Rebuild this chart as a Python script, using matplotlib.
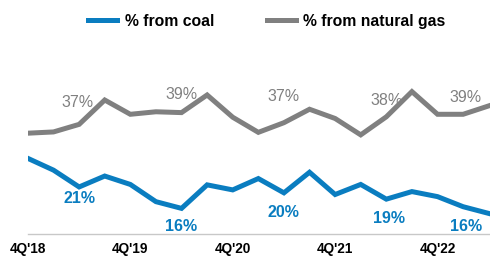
import matplotlib
matplotlib.use("Agg")
import matplotlib.pyplot as plt
import numpy as np

plt.rcParams['font.family'] = ['Liberation Sans', 'DejaVu Sans']

quarters = ["4Q'18", "1Q'19", "2Q'19", "3Q'19", "4Q'19", "1Q'20", "2Q'20", "3Q'20", "4Q'20",
            "1Q'21", "2Q'21", "3Q'21", "4Q'21", "1Q'22", "2Q'22", "3Q'22", "4Q'22", "1Q'23", "2Q'23"]
coal = [27.3, 24.5, 20.5, 23.1, 21.1, 17.0, 15.4, 21.0, 19.8, 22.5, 19.1, 24.0, 18.7,
        21.1, 17.6, 19.4, 18.2, 15.8, 14.2]
gas = [33.3, 33.6, 35.4, 41.2, 37.8, 38.4, 38.2, 42.4, 37.1, 33.5, 35.8, 39.0, 36.8,
       32.9, 37.2, 43.2, 37.8, 37.8, 39.8]
shown_ticks = ["4Q'18", "4Q'19", "4Q'20", "4Q'21", "4Q'22"]

gas_labels = ["37%", "39%", "37%", "38%", "39%"]
gas_label_x = [1.94, 6.0, 10.0, 14.0, 17.1]
gas_label_y = [40.5, 42.6, 42.0, 41.0, 41.8]
coal_labels = ["21%", "16%", "20%", "19%", "16%"]
coal_label_x = [2.0, 6.0, 10.0, 14.1, 17.1]
coal_label_y = [17.8, 11.0, 14.4, 13.0, 11.0]

blue = "#0A7DC0"
grey = "#808080"

fig = plt.figure(figsize=(4.9, 2.59), dpi=100)
ax = fig.add_axes([0.057, 0.0965, 0.943, 0.579])
x = np.arange(len(quarters))
ax.plot(x, coal, color=blue, lw=3.6, solid_joinstyle='miter', label="% from coal")
ax.plot(x, gas, color=grey, lw=3.6, solid_joinstyle='miter', label="% from natural gas")

for t, xx, yy in zip(gas_labels, gas_label_x, gas_label_y):
    ax.text(xx, yy, t, color=grey, fontsize=11.5, ha='center', va='center')
for t, xx, yy in zip(coal_labels, coal_label_x, coal_label_y):
    ax.text(xx, yy, t, color=blue, fontsize=11.5, fontweight='bold', ha='center', va='center')

ax.set_xlim(0, 18.05)
ax.set_ylim(9.3, 45)
for s in ['top', 'right', 'left']:
    ax.spines[s].set_visible(False)
ax.spines['bottom'].set_color('#c8c8c8')
ax.spines['bottom'].set_linewidth(1.0)
ax.set_yticks([])
ticks = [quarters.index(q) for q in shown_ticks]
ax.set_xticks(ticks)
ax.set_xticklabels(shown_ticks, fontsize=9.8, fontweight='bold', color='black')
ax.tick_params(axis='x', length=0, pad=6)

fig.legend(loc='upper center', bbox_to_anchor=(0.545, 0.99), ncol=2, frameon=False,
           prop={'size': 11.3, 'weight': 'bold'}, handlelength=1.8, columnspacing=3.4,
           handletextpad=0.5, borderaxespad=0.3)

fig.savefig("out.png", dpi=100)
